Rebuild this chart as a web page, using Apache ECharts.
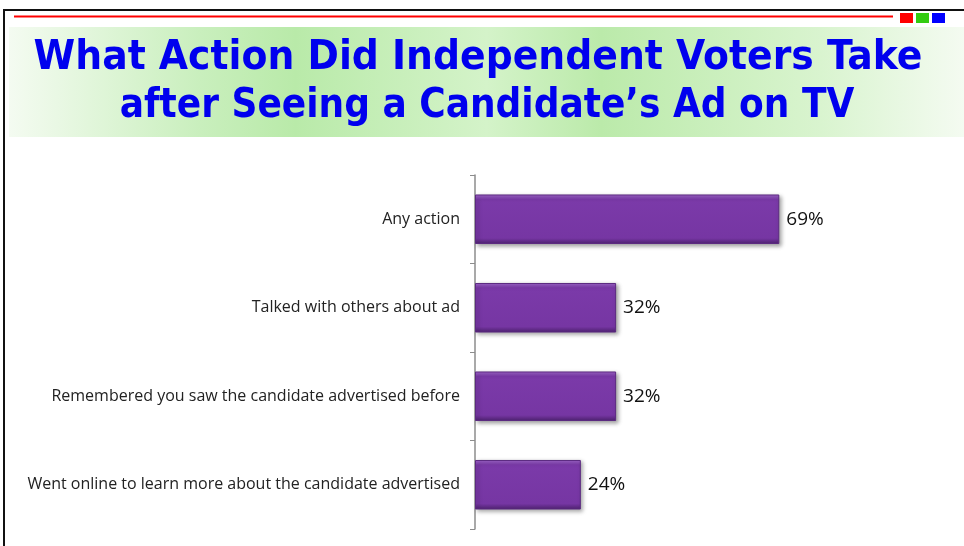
<!DOCTYPE html>
<html>
<head>
<meta charset="utf-8">
<script src="https://cdn.jsdelivr.net/npm/echarts@6/dist/echarts.min.js"></script>
<style>
  html, body { margin: 0; padding: 0; background: #ffffff; }
  #chart { width: 964px; height: 546px; }
</style>
</head>
<body>
<div id="chart"></div>
<script>
// Survey categories (top to bottom) and share of respondents
const categories = [
  'Any action',
  'Talked with others about ad',
  'Remembered you saw the candidate advertised before',
  'Went online to learn more about the candidate advertised'
];
const values = [69, 32, 32, 24];
const titleLines = [
  'What Action Did Independent Voters Take',
  'after Seeing a Candidate\u2019s Ad on TV'
];

const chart = echarts.init(document.getElementById('chart'));

const titleFont = 'bold 40px "DejaVu Sans Condensed", "DejaVu Sans", sans-serif';

const option = {
  backgroundColor: '#ffffff',
  animation: false,
  graphic: [
    // slide frame
    { type: 'rect', shape: { x: 4, y: 10, width: 970, height: 550 },
      style: { fill: 'none', stroke: '#111', lineWidth: 2 } },
    // title band
    { type: 'rect', shape: { x: 9, y: 27, width: 955, height: 110 },
      style: { fill: new echarts.graphic.LinearGradient(0, 0, 1, 0, [
        { offset: 0, color: '#f4fbf1' },
        { offset: 0.2, color: '#c9efbd' },
        { offset: 0.3, color: '#b9eaa9' },
        { offset: 0.5, color: '#d4f3c9' },
        { offset: 0.62, color: '#bbeaaa' },
        { offset: 0.85, color: '#d9f4cf' },
        { offset: 1, color: '#f4fbf1' }
      ]) } },
    // red rule and colour squares
    { type: 'line', shape: { x1: 14, y1: 16.5, x2: 893, y2: 16.5 },
      style: { stroke: '#ff0000', lineWidth: 2 } },
    { type: 'rect', shape: { x: 900, y: 13, width: 13, height: 10 }, style: { fill: '#ff0000' } },
    { type: 'rect', shape: { x: 916, y: 13, width: 13, height: 10 }, style: { fill: '#33cc11' } },
    { type: 'rect', shape: { x: 932, y: 13, width: 13, height: 10 }, style: { fill: '#0000ff' } },
    // title text
    { type: 'text', x: 478, y: 59, scaleX: 1.05,
      style: { text: titleLines[0], fill: '#0000ee', font: titleFont,
        align: 'center', verticalAlign: 'middle' } },
    { type: 'text', x: 487, y: 107, scaleX: 1.0,
      style: { text: titleLines[1], fill: '#0000ee', font: titleFont,
        align: 'center', verticalAlign: 'middle' } }
  ],
  grid: { left: 475, top: 175, width: 441, height: 354, containLabel: false },
  xAxis: {
    type: 'value', min: 0, max: 100, show: false
  },
  yAxis: {
    type: 'category',
    data: categories,
    inverse: true,
    axisLine: { show: true, lineStyle: { color: '#8c8c8c', width: 1.5 } },
    axisTick: { show: true, length: 5, lineStyle: { color: '#8c8c8c' } },
    axisLabel: { color: '#222', fontSize: 16, fontFamily: '"Open Sans", "Noto Sans", sans-serif', margin: 15 }
  },
  series: [{
    type: 'bar',
    data: values,
    barWidth: '56%',
    itemStyle: {
      color: new echarts.graphic.LinearGradient(0, 0, 0, 1, [
        { offset: 0, color: '#a066cc' },
        { offset: 0.1, color: '#7b3aa9' },
        { offset: 0.88, color: '#7636a3' },
        { offset: 1, color: '#4e2270' }
      ]),
      borderColor: '#5b2a80',
      borderWidth: 1,
      shadowColor: 'rgba(0,0,0,0.35)',
      shadowBlur: 4,
      shadowOffsetX: 2,
      shadowOffsetY: 2
    },
    label: {
      show: true,
      position: 'right',
      distance: 7,
      formatter: '{c}%',
      color: '#111',
      fontSize: 19,
      fontFamily: '"Open Sans", "Noto Sans", sans-serif'
    }
  }]
};

chart.setOption(option);
</script>
</body>
</html>
